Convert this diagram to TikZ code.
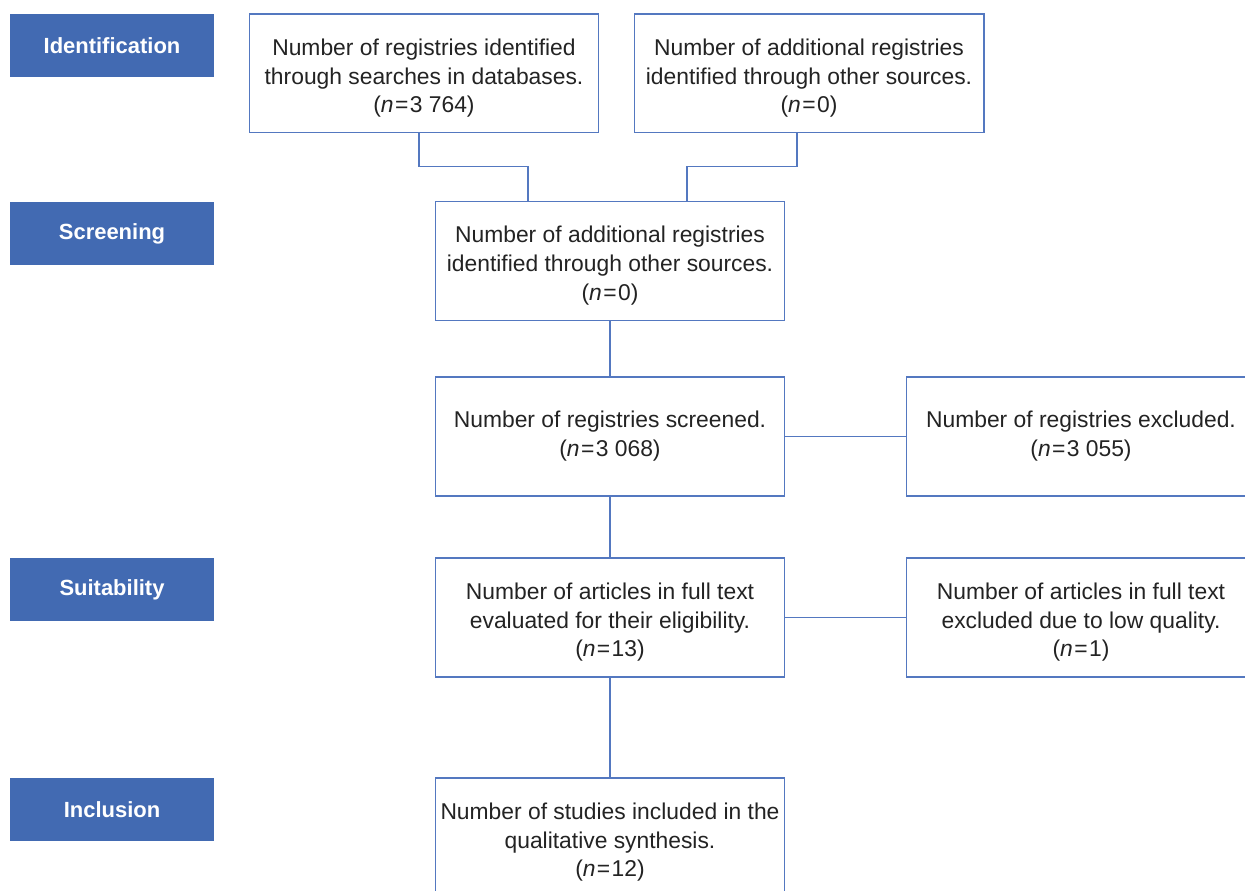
\documentclass[tikz,border=0pt]{standalone}
\usepackage{fontspec}
\setmainfont{Liberation Sans}
\usepackage{xcolor}
\usepackage{tikz}
\usetikzlibrary{calc}
\definecolor{stageblue}{RGB}{66,106,178}
\definecolor{lineblue}{RGB}{84,120,192}
\definecolor{textgrey}{RGB}{35,35,35}
\newcommand{\nis}{(\textit{n}\kern0.8pt=\kern0.8pt}
\newcommand{\lift}{\rule{0pt}{14.8pt}}
\tikzset{
  stagebox/.style={fill=stageblue, text=white, minimum width=4.08cm, minimum height=1.26cm, inner sep=0pt, font=\fontsize{12.5}{15}\selectfont\bfseries},
  countbox/.style={draw=lineblue, line width=0.6pt, fill=white, text=textgrey, minimum width=7cm, minimum height=2.38cm, inner sep=1pt, align=center},
  link/.style={draw=lineblue, line width=0.6pt},
}
\begin{document}
\begin{tikzpicture}[x=0.02cm,y=0.02cm,font=\fontsize{13}{16.4}\selectfont]
  \useasboundingbox (0,0) rectangle (1245,891);
  \clip (0,0) rectangle (1245,891);
  % stage labels
  \node[stagebox] (identification) at (112,845.5) {Identification};
  \node[stagebox] (screening) at (112,657.5) {Screening};
  \node[stagebox] (suitability) at (112,301.5) {Suitability};
  \node[stagebox] (inclusion) at (112,81.5) {Inclusion};
  % counts
  \node[countbox] (dbsearch) at (424,817.5) {\lift Number of registries identified\\through searches in databases.\\\nis3 764)};
  \node[countbox] (othersrc) at (809,817.5) {\lift Number of additional registries\\identified through other sources.\\\nis0)};
  \node[countbox] (merged) at (610,630) {\lift Number of additional registries\\identified through other sources.\\\nis0)};
  \node[countbox] (screened) at (610,454.5) {Number of registries screened.\\\nis3 068)};
  \node[countbox] (excluded) at (1081,454.5) {Number of registries excluded.\\\nis3 055)};
  \node[countbox] (fulltext) at (610,273.5) {\lift Number of articles in full text\\evaluated for their eligibility.\\\nis13)};
  \node[countbox] (lowqual) at (1081,273.5) {\lift Number of articles in full text\\excluded due to low quality.\\\nis1)};
  \node[countbox] (included) at (610,53.5) {\lift Number of studies included in the\\qualitative synthesis.\\\nis12)};
  % connectors
  \draw[link] ($(dbsearch.south)+(-5,0)$) -- ++(0,-33) -| ($(merged.north)+(-82,0)$);
  \draw[link] ($(othersrc.south)+(-12,0)$) -- ++(0,-33) -| ($(merged.north)+(77,0)$);
  \draw[link] (merged) -- (screened);
  \draw[link] (screened) -- (fulltext);
  \draw[link] (fulltext) -- (included);
  \draw[link] (screened.east) -- (excluded.west);
  \draw[link] (fulltext.east) -- (lowqual.west);
\end{tikzpicture}
\end{document}
